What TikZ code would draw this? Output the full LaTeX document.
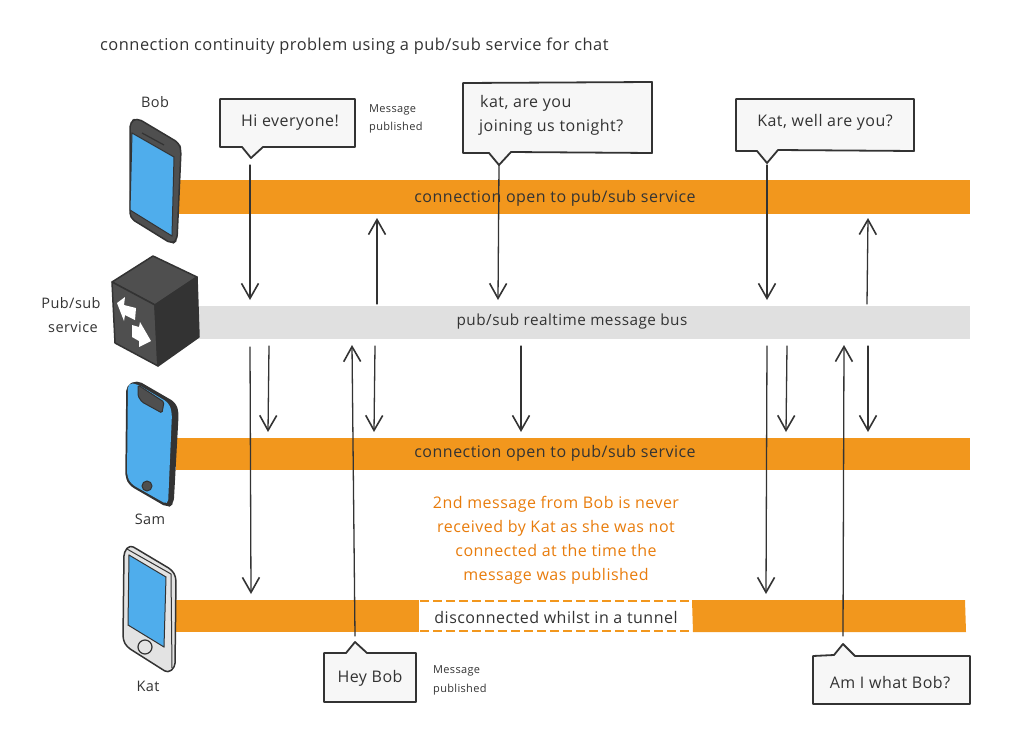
\documentclass[tikz,border=0pt]{standalone}
\usepackage{fontspec}
\setmainfont[LetterSpace=3]{Open Sans}
\usetikzlibrary{arrows.meta}
\definecolor{ink}{HTML}{333333}
\definecolor{barorange}{HTML}{F2971D}
\definecolor{textorange}{HTML}{E87C0C}
\definecolor{bargray}{HTML}{E0E0E0}
\definecolor{bubblefill}{HTML}{F7F7F7}
\definecolor{screenblue}{HTML}{4FADEC}
\definecolor{bodydark}{HTML}{4F4F4F}
\definecolor{bodylight}{HTML}{E3E3E3}
\tikzset{
  x=1pt,y=-1pt,
  label text/.style={text=ink,font=\fontsize{16}{16}\selectfont,inner sep=0pt,yshift=-0.5pt},
  bus text/.style={text=ink,font=\fontsize{15.3}{16}\selectfont,inner sep=0pt,yshift=-0.5pt},
  title text/.style={text=ink,font=\fontsize{16.4}{16}\selectfont,inner sep=0pt,yshift=-0.5pt},
  name text/.style={text=ink,font=\fontsize{14.5}{15}\selectfont,inner sep=0pt,yshift=-0.5pt},
  small text/.style={text=ink,font=\fontsize{11}{11}\selectfont,inner sep=0pt,yshift=-1pt},
  note text/.style={text=textorange,font=\fontsize{16}{16}\selectfont,inner sep=0pt,anchor=base,yshift=-5.5pt},
  barshape/.style={fill=barorange,draw=none,inner sep=0pt},
  grayshape/.style={fill=bargray,draw=none,inner sep=0pt},
  bubble/.style={draw=ink,line width=1.8pt,fill=bubblefill,line join=round},
  conn/.style={draw=ink,line width=1.3pt,line cap=round},
  connarrow/.style={conn,-{Straight Barb[length=15pt,width=17pt,line width=1.6pt]}},
  device/.style={draw=ink,line width=1.5pt,line join=round},
}
\begin{document}
\begin{tikzpicture}
\useasboundingbox (0,0) rectangle (1010,744);
% bars
\path[barshape] (178,180) rectangle (970,214);
\path[grayshape] (198,306) rectangle (970,339);
\path[barshape] (176,438) rectangle (970,470);
\path[barshape] (175,600) rectangle (419,632);
\path[barshape] (692,600) -- (965,600) -- (966,632) -- (693,632) -- cycle;
\draw[barorange,line width=2pt,dash pattern=on 9pt off 4pt] (420,601) -- (692,601);
\draw[barorange,line width=2pt,dash pattern=on 9pt off 4pt] (420,631) -- (692,631);
% connector end points
\coordinate (a1s) at (250,165); \coordinate (a1e) at (250,300);
\coordinate (a2s) at (377,304); \coordinate (a2e) at (377,218);
\coordinate (a3s) at (499,165); \coordinate (a3e) at (498,300);
\coordinate (a4s) at (767,165); \coordinate (a4e) at (767,300);
\coordinate (a5s) at (867,304); \coordinate (a5e) at (868,218);
\coordinate (b1s) at (250,347); \coordinate (b1e) at (251,594);
\coordinate (b2s) at (269,346); \coordinate (b2e) at (268,432);
\coordinate (b3s) at (355,636); \coordinate (b3e) at (352,345);
\coordinate (b4s) at (375,346); \coordinate (b4e) at (374,432);
\coordinate (b5s) at (521,346); \coordinate (b5e) at (521,432);
\coordinate (b6s) at (767,346); \coordinate (b6e) at (766,594);
\coordinate (b7s) at (787,346); \coordinate (b7e) at (786,432);
\coordinate (b8s) at (843,636); \coordinate (b8e) at (844,345);
\coordinate (b9s) at (868,346); \coordinate (b9e) at (868,432);
\foreach \n in {a1,a2,a3,a4,a5,b1,b2,b3,b4,b5,b6,b7,b8,b9}
  \draw[connarrow] (\n s) -- (\n e);
% bar labels
\node[label text] (t1) at (555,198) {connection open to pub/sub service};
\node[bus text] (t2) at (572,321) {pub/sub realtime message bus};
\node[label text] (t3) at (555,453) {connection open to pub/sub service};
\node[label text] (t4) at (556,617) {disconnected whilst in a tunnel};
% Bob phone
\draw[device,fill=bodydark,rounded corners=5pt] (130,122) -- (137,118) -- (179,143) -- (181,150) -- (177,240) -- (172,244) -- (130,218) -- cycle;
\draw[draw=ink,line width=1pt,fill=screenblue] (132,133) -- (174,157) -- (172,236) -- (130,210) -- cycle;
\draw[draw=ink,line width=1.2pt] (142,133) -- (164,145);
% cube
\draw[device,fill=bodydark] (153,256) -- (197,277) -- (155,305) -- (112,282) -- cycle;
\draw[device,fill=bodydark] (112,282) -- (155,305) -- (158,366) -- (115,343) -- cycle;
\draw[device,fill=ink] (155,305) -- (197,277) -- (199,337) -- (158,366) -- cycle;
\fill[white] (117,303) -- (125,297) -- (124,305) -- (136,308) -- (135,320) -- (125,315) -- (124,321) -- cycle;
\fill[white] (132,325) -- (139,327) -- (140,322) -- (151,341) -- (139,347) -- (139,341) -- (132,337) -- cycle;
% Sam phone
\draw[device,fill=ink,rounded corners=5pt] (127,386) -- (137,381) -- (175,403) -- (178,412) -- (173,503) -- (168,507) -- (130,485) -- (126,477) -- cycle;
\draw[draw=none,fill=screenblue,rounded corners=5pt] (128,383) -- (137,384) -- (169,403) -- (172,413) -- (168,505) -- (131,484) -- (127,476) -- cycle;
\draw[draw=ink,line width=1pt,fill=bodydark,rounded corners=1.5pt] (138,385) -- (138,396) -- (142,402) -- (162,413) -- (164,402) -- cycle;
\draw[draw=ink,line width=1pt,fill=bodydark] (147,486) circle[radius=5];
% Kat phone
\draw[device,fill=bodylight,rounded corners=4pt] (124,552) -- (130,545) -- (172,570) -- (176,577) -- (175,667) -- (168,673) -- (127,647) -- (123,640) -- cycle;
\draw[draw=ink,line width=1pt] (127,549) -- (171,574) -- (172,668);
\draw[draw=ink,line width=1pt,fill=screenblue] (129,555) -- (166,577) -- (164,647) -- (128,625) -- cycle;
\draw[draw=ink,line width=1.2pt,fill=bodylight] (145,647) circle[radius=7];
% bubbles
\draw[bubble] (220,99) -- (355,99) -- (355,147) -- (263,147) -- (251,158) -- (242,147) -- (220,147) -- cycle;
\node[label text] (hi) at (290,122) {Hi everyone!};
\draw[bubble] (463,83) -- (652,82) -- (652,153) -- (511,152) -- (499,165) -- (489,153) -- (463,153) -- cycle;
\node[label text,anchor=west] (kat1) at (480,103) {kat, are you};
\node[label text,anchor=west] (kat2) at (479,127) {joining us tonight?};
\draw[bubble] (736,99) -- (914,99) -- (914,151) -- (778,150) -- (767,163) -- (757,151) -- (736,151) -- cycle;
\node[label text] (kat3) at (825,122) {Kat, well are you?};
\draw[bubble] (324,653) -- (346,653) -- (355,642) -- (367,653) -- (416,653) -- (416,702) -- (324,702) -- cycle;
\node[label text] (hey) at (370,678) {Hey Bob};
\draw[bubble] (813,656) -- (834,655) -- (843,644) -- (855,656) -- (970,656) -- (970,704) -- (813,704) -- cycle;
\node[label text] (am) at (890,682) {Am I what Bob?};
% plain labels
\node[title text,anchor=west] (title) at (100,46) {connection continuity problem using a pub/sub service for chat};
\node[name text] (bob) at (155,102) {Bob};
\node[name text] (pub) at (71,303) {Pub/sub};
\node[name text] (svc) at (73,327) {service};
\node[name text] (sam) at (150,519) {Sam};
\node[name text] (kat) at (148,686) {Kat};
\node[small text,anchor=west] (m1) at (369,109) {Message};
\node[small text,anchor=west] (m2) at (369,127) {published};
\node[small text,anchor=west] (m3) at (433,670) {Message};
\node[small text,anchor=west] (m4) at (433,689) {published};
\node[note text] (n1) at (556,503) {2nd message from Bob is never};
\node[note text] (n2) at (556,527) {received by Kat as she was not};
\node[note text] (n3) at (556,551) {connected at the time the};
\node[note text] (n4) at (556,575) {message was published};
\end{tikzpicture}
\end{document}
